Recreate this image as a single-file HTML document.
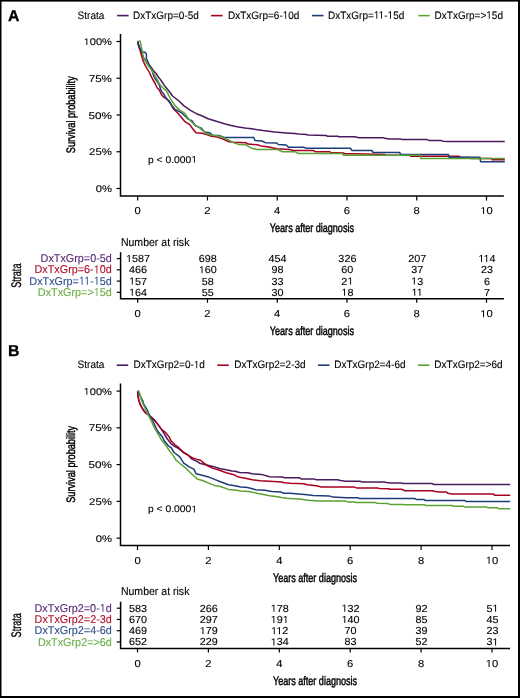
<!DOCTYPE html>
<html><head><meta charset="utf-8"><style>html,body{margin:0;padding:0;background:#fff}svg{display:block}.o{fill-opacity:0;stroke-opacity:0}text{font-family:"Liberation Sans", sans-serif;fill:#000;text-rendering:geometricPrecision}</style></head>
<body><svg style="will-change:transform" width="520" height="698" viewBox="0 0 520 698">
<rect width="520" height="698" fill="#fff"/><defs><path id="g1" d="M515 0V1237L197 1010V1180L530 1409H696V0Z"/></defs>
<text x="7.9" y="21.3" font-size="15.8" font-weight="bold" stroke="#000" stroke-width="0.3">A</text>
<text transform="translate(77.60,18.75) scale(0.926,1)" font-size="10.8" style="fill:#000;stroke:#000;stroke-width:0.12px">Strata</text>
<line x1="117.1" y1="15.6" x2="128.6" y2="15.6" stroke="#4a1a5e" stroke-width="1.6"/>
<text transform="translate(133.00,18.75) scale(0.926,1)" font-size="10.8" style="fill:#000;stroke:#000;stroke-width:0.12px">DxTxGrp=0-5d</text>
<line x1="211.1" y1="15.6" x2="222.6" y2="15.6" stroke="#a8001f" stroke-width="1.6"/>
<text transform="translate(228.00,18.75) scale(0.926,1)" font-size="10.8" style="fill:#000;stroke:#000;stroke-width:0.12px">DxTxGrp=6-<tspan class="o">1</tspan>0d</text>
<line x1="312.0" y1="15.6" x2="323.5" y2="15.6" stroke="#1e3c7a" stroke-width="1.6"/>
<text transform="translate(328.00,18.75) scale(0.926,1)" font-size="10.8" style="fill:#000;stroke:#000;stroke-width:0.12px">DxTxGrp=<tspan class="o">1</tspan><tspan class="o">1</tspan>-<tspan class="o">1</tspan>5d</text>
<line x1="418.3" y1="15.6" x2="429.8" y2="15.6" stroke="#5ba234" stroke-width="1.6"/>
<text transform="translate(434.60,18.75) scale(0.926,1)" font-size="10.8" style="fill:#000;stroke:#000;stroke-width:0.12px">DxTxGrp=&gt;<tspan class="o">1</tspan>5d</text>
<path d="M120.5,34.0 V196.0 H503.9" fill="none" stroke="#000" stroke-width="1.5"/>
<line x1="116.5" y1="41.50" x2="120.5" y2="41.50" stroke="#000" stroke-width="1.2"/>
<text transform="translate(111.90,45.10) scale(1.144,1)" font-size="9.7" text-anchor="end" style="fill:#000;stroke:#000;stroke-width:0.12px"><tspan class="o">1</tspan>00%</text>
<line x1="116.5" y1="78.25" x2="120.5" y2="78.25" stroke="#000" stroke-width="1.2"/>
<text transform="translate(111.90,81.85) scale(1.197,1)" font-size="9.7" text-anchor="end" style="fill:#000;stroke:#000;stroke-width:0.12px">75%</text>
<line x1="116.5" y1="115.00" x2="120.5" y2="115.00" stroke="#000" stroke-width="1.2"/>
<text transform="translate(111.90,118.60) scale(1.207,1)" font-size="9.7" text-anchor="end" style="fill:#000;stroke:#000;stroke-width:0.12px">50%</text>
<line x1="116.5" y1="151.75" x2="120.5" y2="151.75" stroke="#000" stroke-width="1.2"/>
<text transform="translate(111.90,155.35) scale(1.176,1)" font-size="9.7" text-anchor="end" style="fill:#000;stroke:#000;stroke-width:0.12px">25%</text>
<line x1="116.5" y1="188.50" x2="120.5" y2="188.50" stroke="#000" stroke-width="1.2"/>
<text transform="translate(111.90,192.10) scale(1.157,1)" font-size="9.7" text-anchor="end" style="fill:#000;stroke:#000;stroke-width:0.12px">0%</text>
<text transform="translate(75.2,114.7) rotate(-90) scale(0.745,1)" font-size="12.3" text-anchor="middle" stroke="#000" stroke-width="0.45">Survival probability</text>
<line x1="137.70" y1="196.0" x2="137.70" y2="200.5" stroke="#000" stroke-width="1.2"/>
<text transform="translate(137.70,214.10) scale(1.110,1)" font-size="10.1" text-anchor="middle" style="fill:#000;stroke:#000;stroke-width:0.12px">0</text>
<line x1="207.46" y1="196.0" x2="207.46" y2="200.5" stroke="#000" stroke-width="1.2"/>
<text transform="translate(207.46,214.10) scale(1.110,1)" font-size="10.1" text-anchor="middle" style="fill:#000;stroke:#000;stroke-width:0.12px">2</text>
<line x1="277.22" y1="196.0" x2="277.22" y2="200.5" stroke="#000" stroke-width="1.2"/>
<text transform="translate(277.22,214.10) scale(1.110,1)" font-size="10.1" text-anchor="middle" style="fill:#000;stroke:#000;stroke-width:0.12px">4</text>
<line x1="346.98" y1="196.0" x2="346.98" y2="200.5" stroke="#000" stroke-width="1.2"/>
<text transform="translate(346.98,214.10) scale(1.110,1)" font-size="10.1" text-anchor="middle" style="fill:#000;stroke:#000;stroke-width:0.12px">6</text>
<line x1="416.74" y1="196.0" x2="416.74" y2="200.5" stroke="#000" stroke-width="1.2"/>
<text transform="translate(416.74,214.10) scale(1.110,1)" font-size="10.1" text-anchor="middle" style="fill:#000;stroke:#000;stroke-width:0.12px">8</text>
<line x1="486.50" y1="196.0" x2="486.50" y2="200.5" stroke="#000" stroke-width="1.2"/>
<text transform="translate(486.50,214.10) scale(1.110,1)" font-size="10.1" text-anchor="middle" style="fill:#000;stroke:#000;stroke-width:0.12px"><tspan class="o">1</tspan>0</text>
<text transform="translate(311.9,232.3) scale(0.735,1)" font-size="12.3" text-anchor="middle" stroke="#000" stroke-width="0.45">Years after diagnosis</text>
<text transform="translate(148.00,162.80) scale(1.065,1)" font-size="9.7" style="fill:#000;stroke:#000;stroke-width:0.12px">p &lt; 0.000<tspan class="o">1</tspan></text>
<path d="M137.7,41.5 L138.6,45.0 L139.8,48.5 L141.0,51.5 L142.3,55.0 L144.0,58.5 L146.5,62.5 L149.0,65.5 L151.1,67.5 L153.8,71.0 L156.5,74.0 L158.6,77.2 L160.5,79.6 L162.4,82.5 L164.3,85.4 L166.3,87.8 L168.7,90.7 L171.1,94.0 L172.5,96.0 L178.8,100.8 L183.7,105.6 L190.4,110.4 L196.5,113.7 L202.3,116.0 L208.1,118.8 L213.0,120.2 L219.6,122.3 L225.4,124.0 L231.2,125.5 L236.9,126.7 L245.0,128.1 L251.5,128.8 L263.1,130.6 L274.6,132.1 L286.2,132.9 L295.0,133.6 L298.5,134.1 L306.5,134.4 L307.7,135.0 L326.2,135.5 L327.3,136.2 L337.7,136.2 L338.8,136.7 L354.6,136.7 L359.2,137.7 L383.5,137.7 L384.6,138.3 L389.2,139.1 L400.8,139.1 L401.9,139.5 L426.5,139.5 L430.0,140.6 L441.5,140.6 L443.3,141.2 L447.3,141.5 L504.8,141.5" fill="none" stroke="#4a1a5e" stroke-width="1.5" stroke-linejoin="round"/>
<path d="M137.7,41.5 L138.3,45.2 L139.3,48.1 L140.3,51.0 L141.2,54.4 L142.3,58.2 L143.5,61.8 L145.3,65.6 L147.2,68.9 L149.1,71.8 L150.6,75.2 L152.5,79.0 L155.2,83.5 L157.1,87.8 L159.5,90.2 L161.0,94.0 L163.5,96.9 L169.2,100.8 L173.1,108.5 L177.9,113.3 L182.7,119.0 L185.0,121.7 L189.6,124.6 L193.1,129.2 L196.0,132.7 L202.3,133.3 L205.8,134.4 L211.5,136.2 L217.3,137.1 L223.1,139.0 L228.8,141.7 L233.5,142.2 L240.0,142.5 L245.8,142.7 L248.1,144.1 L257.3,144.8 L260.8,145.9 L268.8,147.1 L276.9,148.7 L289.6,149.4 L293.1,150.5 L313.5,150.6 L315.2,151.7 L329.6,151.7 L330.8,152.5 L343.5,152.9 L344.6,153.7 L353.5,153.8 L384.6,154.4 L385.8,155.2 L410.0,155.2 L410.4,156.3 L459.2,156.3 L460.4,157.5 L470.0,157.5 L471.0,158.6 L491.5,158.6 L492.1,159.8 L504.8,159.8" fill="none" stroke="#a8001f" stroke-width="1.5" stroke-linejoin="round"/>
<path d="M137.7,41.5 L138.3,44.3 L139.8,47.6 L141.2,50.5 L142.7,52.2 L145.0,52.3 L146.2,53.5 L146.5,56.0 L146.3,58.3 L147.2,60.3 L149.1,64.6 L151.1,67.5 L152.3,71.5 L153.8,76.3 L155.2,78.7 L157.6,82.0 L159.5,85.4 L160.5,89.2 L162.4,92.6 L163.9,94.0 L165.0,96.5 L168.3,100.8 L172.1,105.6 L175.0,109.4 L180.8,112.3 L185.3,116.3 L188.5,119.4 L191.9,120.6 L195.4,125.8 L201.2,128.1 L204.6,132.1 L209.2,132.7 L212.7,135.2 L219.6,135.6 L224.2,137.5 L253.8,137.5 L255.0,140.6 L261.9,141.0 L265.4,142.7 L276.9,142.9 L278.1,144.4 L286.2,145.0 L288.5,147.3 L304.2,147.3 L306.0,148.3 L350.4,148.3 L352.1,150.5 L371.9,150.5 L373.1,152.5 L399.6,152.5 L400.8,154.5 L448.5,154.5 L449.0,157.3 L480.0,157.3 L480.6,161.7 L504.8,161.7" fill="none" stroke="#1e3c7a" stroke-width="1.5" stroke-linejoin="round"/>
<path d="M137.7,41.3 L140.2,41.3 L140.7,44.3 L141.5,47.6 L142.2,50.5 L142.7,53.9 L143.6,57.6 L145.3,60.3 L147.2,64.1 L149.6,67.5 L152.0,70.4 L153.6,73.5 L155.2,75.8 L157.1,79.1 L158.6,82.5 L160.5,85.4 L163.4,88.3 L165.8,90.2 L167.7,93.1 L168.5,95.0 L171.2,99.8 L175.0,105.6 L178.8,109.4 L184.6,113.3 L188.5,118.7 L194.2,124.6 L200.0,128.1 L205.8,133.3 L211.5,135.2 L218.5,135.9 L223.1,137.5 L228.8,140.2 L234.6,143.1 L239.2,144.6 L245.8,144.8 L251.5,148.2 L257.3,149.4 L276.9,149.4 L282.7,151.7 L295.0,151.7 L298.5,153.5 L342.3,153.5 L343.5,155.2 L420.2,155.2 L420.8,158.6 L504.8,158.6" fill="none" stroke="#5ba234" stroke-width="1.5" stroke-linejoin="round"/>
<text transform="translate(120.90,245.50) scale(0.925,1)" font-size="11.4" style="fill:#000;stroke:#000;stroke-width:0.12px">Number at risk</text>
<path d="M120.6,252.2 V298.8 H503.9" fill="none" stroke="#000" stroke-width="1.5"/>
<line x1="116.8" y1="258.60" x2="120.6" y2="258.60" stroke="#000" stroke-width="1.2"/>
<text transform="translate(111.80,262.15) scale(0.957,1)" font-size="11.3" text-anchor="end" style="fill:#5a2a78;stroke:#5a2a78;stroke-width:0.12px">DxTxGrp=0-5d</text>
<text transform="translate(138.10,262.10) scale(1.060,1)" font-size="10.2" text-anchor="middle" style="fill:#000;stroke:#000;stroke-width:0.12px"><tspan class="o">1</tspan>587</text>
<text transform="translate(207.86,262.10) scale(1.060,1)" font-size="10.2" text-anchor="middle" style="fill:#000;stroke:#000;stroke-width:0.12px">698</text>
<text transform="translate(277.62,262.10) scale(1.060,1)" font-size="10.2" text-anchor="middle" style="fill:#000;stroke:#000;stroke-width:0.12px">454</text>
<text transform="translate(347.38,262.10) scale(1.060,1)" font-size="10.2" text-anchor="middle" style="fill:#000;stroke:#000;stroke-width:0.12px">326</text>
<text transform="translate(417.14,262.10) scale(1.060,1)" font-size="10.2" text-anchor="middle" style="fill:#000;stroke:#000;stroke-width:0.12px">207</text>
<text transform="translate(486.90,262.10) scale(1.060,1)" font-size="10.2" text-anchor="middle" style="fill:#000;stroke:#000;stroke-width:0.12px"><tspan class="o">1</tspan><tspan class="o">1</tspan>4</text>
<line x1="116.8" y1="269.85" x2="120.6" y2="269.85" stroke="#000" stroke-width="1.2"/>
<text transform="translate(111.80,273.40) scale(0.957,1)" font-size="11.3" text-anchor="end" style="fill:#b0102c;stroke:#b0102c;stroke-width:0.12px">DxTxGrp=6-<tspan class="o">1</tspan>0d</text>
<text transform="translate(138.10,273.35) scale(1.060,1)" font-size="10.2" text-anchor="middle" style="fill:#000;stroke:#000;stroke-width:0.12px">466</text>
<text transform="translate(207.86,273.35) scale(1.060,1)" font-size="10.2" text-anchor="middle" style="fill:#000;stroke:#000;stroke-width:0.12px"><tspan class="o">1</tspan>60</text>
<text transform="translate(277.62,273.35) scale(1.060,1)" font-size="10.2" text-anchor="middle" style="fill:#000;stroke:#000;stroke-width:0.12px">98</text>
<text transform="translate(347.38,273.35) scale(1.060,1)" font-size="10.2" text-anchor="middle" style="fill:#000;stroke:#000;stroke-width:0.12px">60</text>
<text transform="translate(417.14,273.35) scale(1.060,1)" font-size="10.2" text-anchor="middle" style="fill:#000;stroke:#000;stroke-width:0.12px">37</text>
<text transform="translate(486.90,273.35) scale(1.060,1)" font-size="10.2" text-anchor="middle" style="fill:#000;stroke:#000;stroke-width:0.12px">23</text>
<line x1="116.8" y1="281.10" x2="120.6" y2="281.10" stroke="#000" stroke-width="1.2"/>
<text transform="translate(111.80,284.65) scale(0.957,1)" font-size="11.3" text-anchor="end" style="fill:#2f4f8f;stroke:#2f4f8f;stroke-width:0.12px">DxTxGrp=<tspan class="o">1</tspan><tspan class="o">1</tspan>-<tspan class="o">1</tspan>5d</text>
<text transform="translate(138.10,284.60) scale(1.060,1)" font-size="10.2" text-anchor="middle" style="fill:#000;stroke:#000;stroke-width:0.12px"><tspan class="o">1</tspan>57</text>
<text transform="translate(207.86,284.60) scale(1.060,1)" font-size="10.2" text-anchor="middle" style="fill:#000;stroke:#000;stroke-width:0.12px">58</text>
<text transform="translate(277.62,284.60) scale(1.060,1)" font-size="10.2" text-anchor="middle" style="fill:#000;stroke:#000;stroke-width:0.12px">33</text>
<text transform="translate(347.38,284.60) scale(1.060,1)" font-size="10.2" text-anchor="middle" style="fill:#000;stroke:#000;stroke-width:0.12px">2<tspan class="o">1</tspan></text>
<text transform="translate(417.14,284.60) scale(1.060,1)" font-size="10.2" text-anchor="middle" style="fill:#000;stroke:#000;stroke-width:0.12px"><tspan class="o">1</tspan>3</text>
<text transform="translate(486.90,284.60) scale(1.060,1)" font-size="10.2" text-anchor="middle" style="fill:#000;stroke:#000;stroke-width:0.12px">6</text>
<line x1="116.8" y1="292.35" x2="120.6" y2="292.35" stroke="#000" stroke-width="1.2"/>
<text transform="translate(111.80,295.90) scale(0.957,1)" font-size="11.3" text-anchor="end" style="fill:#6aae45;stroke:#6aae45;stroke-width:0.12px">DxTxGrp=&gt;<tspan class="o">1</tspan>5d</text>
<text transform="translate(138.10,295.85) scale(1.060,1)" font-size="10.2" text-anchor="middle" style="fill:#000;stroke:#000;stroke-width:0.12px"><tspan class="o">1</tspan>64</text>
<text transform="translate(207.86,295.85) scale(1.060,1)" font-size="10.2" text-anchor="middle" style="fill:#000;stroke:#000;stroke-width:0.12px">55</text>
<text transform="translate(277.62,295.85) scale(1.060,1)" font-size="10.2" text-anchor="middle" style="fill:#000;stroke:#000;stroke-width:0.12px">30</text>
<text transform="translate(347.38,295.85) scale(1.060,1)" font-size="10.2" text-anchor="middle" style="fill:#000;stroke:#000;stroke-width:0.12px"><tspan class="o">1</tspan>8</text>
<text transform="translate(417.14,295.85) scale(1.060,1)" font-size="10.2" text-anchor="middle" style="fill:#000;stroke:#000;stroke-width:0.12px"><tspan class="o">1</tspan><tspan class="o">1</tspan></text>
<text transform="translate(486.90,295.85) scale(1.060,1)" font-size="10.2" text-anchor="middle" style="fill:#000;stroke:#000;stroke-width:0.12px">7</text>
<text transform="translate(21.4,275.7) rotate(-90) scale(0.655,1)" font-size="13.9" text-anchor="middle" stroke="#000" stroke-width="0.3">Strata</text>
<line x1="137.70" y1="298.8" x2="137.70" y2="302.8" stroke="#000" stroke-width="1.2"/>
<text transform="translate(137.70,317.30) scale(1.110,1)" font-size="10.1" text-anchor="middle" style="fill:#000;stroke:#000;stroke-width:0.12px">0</text>
<line x1="207.46" y1="298.8" x2="207.46" y2="302.8" stroke="#000" stroke-width="1.2"/>
<text transform="translate(207.46,317.30) scale(1.110,1)" font-size="10.1" text-anchor="middle" style="fill:#000;stroke:#000;stroke-width:0.12px">2</text>
<line x1="277.22" y1="298.8" x2="277.22" y2="302.8" stroke="#000" stroke-width="1.2"/>
<text transform="translate(277.22,317.30) scale(1.110,1)" font-size="10.1" text-anchor="middle" style="fill:#000;stroke:#000;stroke-width:0.12px">4</text>
<line x1="346.98" y1="298.8" x2="346.98" y2="302.8" stroke="#000" stroke-width="1.2"/>
<text transform="translate(346.98,317.30) scale(1.110,1)" font-size="10.1" text-anchor="middle" style="fill:#000;stroke:#000;stroke-width:0.12px">6</text>
<line x1="416.74" y1="298.8" x2="416.74" y2="302.8" stroke="#000" stroke-width="1.2"/>
<text transform="translate(416.74,317.30) scale(1.110,1)" font-size="10.1" text-anchor="middle" style="fill:#000;stroke:#000;stroke-width:0.12px">8</text>
<line x1="486.50" y1="298.8" x2="486.50" y2="302.8" stroke="#000" stroke-width="1.2"/>
<text transform="translate(486.50,317.30) scale(1.110,1)" font-size="10.1" text-anchor="middle" style="fill:#000;stroke:#000;stroke-width:0.12px"><tspan class="o">1</tspan>0</text>
<text transform="translate(311.9,335.3) scale(0.735,1)" font-size="12.3" text-anchor="middle" stroke="#000" stroke-width="0.45">Years after diagnosis</text>
<text x="7.9" y="356.2" font-size="15.8" font-weight="bold" stroke="#000" stroke-width="0.3">B</text>
<text transform="translate(77.60,368.35) scale(0.926,1)" font-size="10.8" style="fill:#000;stroke:#000;stroke-width:0.12px">Strata</text>
<line x1="116.7" y1="365.2" x2="128.2" y2="365.2" stroke="#4a1a5e" stroke-width="1.6"/>
<text transform="translate(133.50,368.35) scale(0.926,1)" font-size="10.8" style="fill:#000;stroke:#000;stroke-width:0.12px">DxTxGrp2=0-<tspan class="o">1</tspan>d</text>
<line x1="217.3" y1="365.2" x2="228.8" y2="365.2" stroke="#a8001f" stroke-width="1.6"/>
<text transform="translate(234.20,368.35) scale(0.926,1)" font-size="10.8" style="fill:#000;stroke:#000;stroke-width:0.12px">DxTxGrp2=2-3d</text>
<line x1="318.0" y1="365.2" x2="329.5" y2="365.2" stroke="#1e3c7a" stroke-width="1.6"/>
<text transform="translate(334.20,368.35) scale(0.926,1)" font-size="10.8" style="fill:#000;stroke:#000;stroke-width:0.12px">DxTxGrp2=4-6d</text>
<line x1="418.0" y1="365.2" x2="429.5" y2="365.2" stroke="#5ba234" stroke-width="1.6"/>
<text transform="translate(434.30,368.35) scale(0.926,1)" font-size="10.8" style="fill:#000;stroke:#000;stroke-width:0.12px">DxTxGrp2=&gt;6d</text>
<path d="M120.5,383.6 V545.6 H510.0" fill="none" stroke="#000" stroke-width="1.5"/>
<line x1="116.5" y1="391.10" x2="120.5" y2="391.10" stroke="#000" stroke-width="1.2"/>
<text transform="translate(111.90,394.70) scale(1.144,1)" font-size="9.7" text-anchor="end" style="fill:#000;stroke:#000;stroke-width:0.12px"><tspan class="o">1</tspan>00%</text>
<line x1="116.5" y1="427.85" x2="120.5" y2="427.85" stroke="#000" stroke-width="1.2"/>
<text transform="translate(111.90,431.45) scale(1.197,1)" font-size="9.7" text-anchor="end" style="fill:#000;stroke:#000;stroke-width:0.12px">75%</text>
<line x1="116.5" y1="464.60" x2="120.5" y2="464.60" stroke="#000" stroke-width="1.2"/>
<text transform="translate(111.90,468.20) scale(1.207,1)" font-size="9.7" text-anchor="end" style="fill:#000;stroke:#000;stroke-width:0.12px">50%</text>
<line x1="116.5" y1="501.35" x2="120.5" y2="501.35" stroke="#000" stroke-width="1.2"/>
<text transform="translate(111.90,504.95) scale(1.176,1)" font-size="9.7" text-anchor="end" style="fill:#000;stroke:#000;stroke-width:0.12px">25%</text>
<line x1="116.5" y1="538.10" x2="120.5" y2="538.10" stroke="#000" stroke-width="1.2"/>
<text transform="translate(111.90,541.70) scale(1.157,1)" font-size="9.7" text-anchor="end" style="fill:#000;stroke:#000;stroke-width:0.12px">0%</text>
<text transform="translate(75.2,464.3) rotate(-90) scale(0.745,1)" font-size="12.3" text-anchor="middle" stroke="#000" stroke-width="0.45">Survival probability</text>
<line x1="137.50" y1="545.6" x2="137.50" y2="550.1" stroke="#000" stroke-width="1.2"/>
<text transform="translate(137.50,563.70) scale(1.110,1)" font-size="10.1" text-anchor="middle" style="fill:#000;stroke:#000;stroke-width:0.12px">0</text>
<line x1="208.40" y1="545.6" x2="208.40" y2="550.1" stroke="#000" stroke-width="1.2"/>
<text transform="translate(208.40,563.70) scale(1.110,1)" font-size="10.1" text-anchor="middle" style="fill:#000;stroke:#000;stroke-width:0.12px">2</text>
<line x1="279.30" y1="545.6" x2="279.30" y2="550.1" stroke="#000" stroke-width="1.2"/>
<text transform="translate(279.30,563.70) scale(1.110,1)" font-size="10.1" text-anchor="middle" style="fill:#000;stroke:#000;stroke-width:0.12px">4</text>
<line x1="350.20" y1="545.6" x2="350.20" y2="550.1" stroke="#000" stroke-width="1.2"/>
<text transform="translate(350.20,563.70) scale(1.110,1)" font-size="10.1" text-anchor="middle" style="fill:#000;stroke:#000;stroke-width:0.12px">6</text>
<line x1="421.10" y1="545.6" x2="421.10" y2="550.1" stroke="#000" stroke-width="1.2"/>
<text transform="translate(421.10,563.70) scale(1.110,1)" font-size="10.1" text-anchor="middle" style="fill:#000;stroke:#000;stroke-width:0.12px">8</text>
<line x1="492.00" y1="545.6" x2="492.00" y2="550.1" stroke="#000" stroke-width="1.2"/>
<text transform="translate(492.00,563.70) scale(1.110,1)" font-size="10.1" text-anchor="middle" style="fill:#000;stroke:#000;stroke-width:0.12px"><tspan class="o">1</tspan>0</text>
<text transform="translate(315.0,581.9) scale(0.735,1)" font-size="12.3" text-anchor="middle" stroke="#000" stroke-width="0.45">Years after diagnosis</text>
<text transform="translate(148.00,512.40) scale(1.065,1)" font-size="9.7" style="fill:#000;stroke:#000;stroke-width:0.12px">p &lt; 0.000<tspan class="o">1</tspan></text>
<path d="M137.7,390.9 L137.8,395.2 L138.8,400.0 L139.8,403.4 L141.2,406.3 L143.1,409.6 L145.1,412.5 L149.4,415.7 L152.5,418.5 L155.8,421.7 L161.5,429.4 L164.4,434.2 L167.3,439.0 L171.2,443.8 L175.0,446.7 L178.8,448.7 L182.7,452.0 L188.5,455.4 L191.5,458.8 L197.3,461.7 L199.6,463.2 L204.6,464.4 L208.8,465.5 L214.6,466.9 L220.4,468.7 L226.2,469.8 L231.9,471.0 L235.0,471.3 L239.6,472.5 L247.7,472.7 L252.3,473.8 L261.5,474.4 L269.6,476.7 L282.3,477.1 L284.6,477.7 L299.2,477.7 L301.5,479.1 L314.2,479.1 L316.5,479.8 L337.3,479.8 L340.8,480.6 L345.4,481.2 L360.0,481.2 L361.7,481.9 L384.2,481.9 L386.5,482.5 L391.2,482.9 L401.5,482.9 L402.7,483.5 L431.7,483.5 L434.0,484.5 L510.2,484.5" fill="none" stroke="#4a1a5e" stroke-width="1.5" stroke-linejoin="round"/>
<path d="M137.7,390.9 L137.8,395.2 L138.8,400.0 L139.8,403.4 L141.2,406.3 L143.1,409.6 L145.1,412.5 L149.4,415.7 L153.8,419.3 L157.7,424.1 L161.5,429.4 L165.4,432.3 L169.2,437.1 L171.2,441.0 L175.0,444.8 L178.8,447.7 L183.7,452.5 L188.5,455.4 L193.3,458.3 L197.3,459.4 L200.0,460.0 L203.1,462.3 L207.7,465.8 L212.3,468.1 L218.1,469.8 L226.2,472.7 L233.1,474.4 L237.7,476.7 L240.0,477.3 L246.5,478.5 L252.3,479.8 L260.4,480.8 L269.6,481.3 L281.2,481.9 L284.6,482.8 L290.0,483.2 L303.8,483.7 L307.3,484.8 L316.5,485.8 L321.2,486.9 L354.2,487.1 L356.5,487.9 L377.3,487.9 L379.6,488.5 L388.8,488.7 L390.0,489.2 L401.5,489.2 L405.2,490.8 L432.3,490.8 L434.0,491.3 L439.2,491.9 L446.2,491.9 L447.9,493.3 L451.9,494.0 L493.5,494.0 L494.5,495.3 L510.2,495.3" fill="none" stroke="#a8001f" stroke-width="1.5" stroke-linejoin="round"/>
<path d="M137.7,390.9 L139.2,393.8 L141.0,397.5 L142.7,400.5 L143.6,403.9 L145.5,407.2 L147.5,410.6 L148.3,412.5 L149.4,414.9 L152.5,420.3 L154.8,425.2 L157.7,431.3 L162.5,437.1 L164.4,441.0 L168.3,445.8 L171.2,447.7 L174.0,452.5 L177.9,455.4 L180.0,457.1 L183.5,462.9 L189.2,466.9 L193.8,469.2 L196.2,473.8 L203.1,475.6 L208.8,477.1 L214.6,479.4 L220.4,481.7 L228.5,484.8 L235.0,485.8 L240.8,487.1 L247.7,487.5 L255.8,489.8 L265.0,490.2 L271.9,491.4 L281.2,492.1 L283.5,493.2 L290.0,493.3 L295.8,493.8 L307.3,494.8 L313.1,495.6 L329.2,495.9 L332.7,497.1 L341.9,497.5 L346.5,497.7 L357.7,497.7 L359.4,498.6 L415.0,498.6 L416.2,499.4 L423.7,499.4 L425.4,500.5 L465.0,500.5 L466.0,501.5 L510.2,501.5" fill="none" stroke="#1e3c7a" stroke-width="1.5" stroke-linejoin="round"/>
<path d="M137.7,390.9 L138.8,391.0 L139.8,393.8 L140.7,397.6 L141.7,400.5 L143.1,403.9 L144.6,407.2 L146.0,410.1 L147.0,412.5 L149.4,417.2 L152.5,423.4 L154.0,427.2 L157.7,433.3 L161.5,440.0 L166.3,445.8 L169.2,450.6 L173.1,455.4 L176.0,460.2 L180.0,463.5 L185.8,468.1 L191.5,473.8 L197.3,479.0 L203.1,480.8 L208.8,483.1 L214.6,485.4 L220.4,486.5 L228.5,489.4 L235.0,489.9 L240.8,490.9 L248.8,491.4 L258.1,493.5 L269.6,495.8 L277.7,496.7 L281.2,497.5 L286.9,498.3 L290.0,498.5 L299.2,499.0 L308.5,500.2 L317.7,501.0 L345.4,501.0 L347.7,501.9 L354.2,501.9 L356.5,502.5 L375.0,502.5 L377.3,503.2 L387.7,503.5 L390.0,504.4 L403.5,504.4 L404.6,504.8 L424.2,504.8 L426.0,505.5 L451.9,505.5 L453.7,506.2 L463.5,506.2 L464.5,507.0 L486.5,507.0 L487.5,507.7 L497.5,507.7 L498.7,508.8 L510.2,508.8" fill="none" stroke="#5ba234" stroke-width="1.5" stroke-linejoin="round"/>
<text transform="translate(120.90,595.10) scale(0.925,1)" font-size="11.4" style="fill:#000;stroke:#000;stroke-width:0.12px">Number at risk</text>
<path d="M120.6,601.8 V648.4 H510.0" fill="none" stroke="#000" stroke-width="1.5"/>
<line x1="116.8" y1="608.20" x2="120.6" y2="608.20" stroke="#000" stroke-width="1.2"/>
<text transform="translate(111.80,611.75) scale(0.957,1)" font-size="11.3" text-anchor="end" style="fill:#5a2a78;stroke:#5a2a78;stroke-width:0.12px">DxTxGrp2=0-<tspan class="o">1</tspan>d</text>
<text transform="translate(137.90,611.70) scale(1.060,1)" font-size="10.2" text-anchor="middle" style="fill:#000;stroke:#000;stroke-width:0.12px">583</text>
<text transform="translate(208.80,611.70) scale(1.060,1)" font-size="10.2" text-anchor="middle" style="fill:#000;stroke:#000;stroke-width:0.12px">266</text>
<text transform="translate(279.70,611.70) scale(1.060,1)" font-size="10.2" text-anchor="middle" style="fill:#000;stroke:#000;stroke-width:0.12px"><tspan class="o">1</tspan>78</text>
<text transform="translate(350.60,611.70) scale(1.060,1)" font-size="10.2" text-anchor="middle" style="fill:#000;stroke:#000;stroke-width:0.12px"><tspan class="o">1</tspan>32</text>
<text transform="translate(421.50,611.70) scale(1.060,1)" font-size="10.2" text-anchor="middle" style="fill:#000;stroke:#000;stroke-width:0.12px">92</text>
<text transform="translate(492.40,611.70) scale(1.060,1)" font-size="10.2" text-anchor="middle" style="fill:#000;stroke:#000;stroke-width:0.12px">5<tspan class="o">1</tspan></text>
<line x1="116.8" y1="619.45" x2="120.6" y2="619.45" stroke="#000" stroke-width="1.2"/>
<text transform="translate(111.80,623.00) scale(0.957,1)" font-size="11.3" text-anchor="end" style="fill:#b0102c;stroke:#b0102c;stroke-width:0.12px">DxTxGrp2=2-3d</text>
<text transform="translate(137.90,622.95) scale(1.060,1)" font-size="10.2" text-anchor="middle" style="fill:#000;stroke:#000;stroke-width:0.12px">670</text>
<text transform="translate(208.80,622.95) scale(1.060,1)" font-size="10.2" text-anchor="middle" style="fill:#000;stroke:#000;stroke-width:0.12px">297</text>
<text transform="translate(279.70,622.95) scale(1.060,1)" font-size="10.2" text-anchor="middle" style="fill:#000;stroke:#000;stroke-width:0.12px"><tspan class="o">1</tspan>9<tspan class="o">1</tspan></text>
<text transform="translate(350.60,622.95) scale(1.060,1)" font-size="10.2" text-anchor="middle" style="fill:#000;stroke:#000;stroke-width:0.12px"><tspan class="o">1</tspan>40</text>
<text transform="translate(421.50,622.95) scale(1.060,1)" font-size="10.2" text-anchor="middle" style="fill:#000;stroke:#000;stroke-width:0.12px">85</text>
<text transform="translate(492.40,622.95) scale(1.060,1)" font-size="10.2" text-anchor="middle" style="fill:#000;stroke:#000;stroke-width:0.12px">45</text>
<line x1="116.8" y1="630.70" x2="120.6" y2="630.70" stroke="#000" stroke-width="1.2"/>
<text transform="translate(111.80,634.25) scale(0.957,1)" font-size="11.3" text-anchor="end" style="fill:#2f4f8f;stroke:#2f4f8f;stroke-width:0.12px">DxTxGrp2=4-6d</text>
<text transform="translate(137.90,634.20) scale(1.060,1)" font-size="10.2" text-anchor="middle" style="fill:#000;stroke:#000;stroke-width:0.12px">469</text>
<text transform="translate(208.80,634.20) scale(1.060,1)" font-size="10.2" text-anchor="middle" style="fill:#000;stroke:#000;stroke-width:0.12px"><tspan class="o">1</tspan>79</text>
<text transform="translate(279.70,634.20) scale(1.060,1)" font-size="10.2" text-anchor="middle" style="fill:#000;stroke:#000;stroke-width:0.12px"><tspan class="o">1</tspan><tspan class="o">1</tspan>2</text>
<text transform="translate(350.60,634.20) scale(1.060,1)" font-size="10.2" text-anchor="middle" style="fill:#000;stroke:#000;stroke-width:0.12px">70</text>
<text transform="translate(421.50,634.20) scale(1.060,1)" font-size="10.2" text-anchor="middle" style="fill:#000;stroke:#000;stroke-width:0.12px">39</text>
<text transform="translate(492.40,634.20) scale(1.060,1)" font-size="10.2" text-anchor="middle" style="fill:#000;stroke:#000;stroke-width:0.12px">23</text>
<line x1="116.8" y1="641.95" x2="120.6" y2="641.95" stroke="#000" stroke-width="1.2"/>
<text transform="translate(111.80,645.50) scale(0.957,1)" font-size="11.3" text-anchor="end" style="fill:#6aae45;stroke:#6aae45;stroke-width:0.12px">DxTxGrp2=&gt;6d</text>
<text transform="translate(137.90,645.45) scale(1.060,1)" font-size="10.2" text-anchor="middle" style="fill:#000;stroke:#000;stroke-width:0.12px">652</text>
<text transform="translate(208.80,645.45) scale(1.060,1)" font-size="10.2" text-anchor="middle" style="fill:#000;stroke:#000;stroke-width:0.12px">229</text>
<text transform="translate(279.70,645.45) scale(1.060,1)" font-size="10.2" text-anchor="middle" style="fill:#000;stroke:#000;stroke-width:0.12px"><tspan class="o">1</tspan>34</text>
<text transform="translate(350.60,645.45) scale(1.060,1)" font-size="10.2" text-anchor="middle" style="fill:#000;stroke:#000;stroke-width:0.12px">83</text>
<text transform="translate(421.50,645.45) scale(1.060,1)" font-size="10.2" text-anchor="middle" style="fill:#000;stroke:#000;stroke-width:0.12px">52</text>
<text transform="translate(492.40,645.45) scale(1.060,1)" font-size="10.2" text-anchor="middle" style="fill:#000;stroke:#000;stroke-width:0.12px">3<tspan class="o">1</tspan></text>
<text transform="translate(21.4,625.3) rotate(-90) scale(0.655,1)" font-size="13.9" text-anchor="middle" stroke="#000" stroke-width="0.3">Strata</text>
<line x1="137.50" y1="648.4" x2="137.50" y2="652.4" stroke="#000" stroke-width="1.2"/>
<text transform="translate(137.50,666.90) scale(1.110,1)" font-size="10.1" text-anchor="middle" style="fill:#000;stroke:#000;stroke-width:0.12px">0</text>
<line x1="208.40" y1="648.4" x2="208.40" y2="652.4" stroke="#000" stroke-width="1.2"/>
<text transform="translate(208.40,666.90) scale(1.110,1)" font-size="10.1" text-anchor="middle" style="fill:#000;stroke:#000;stroke-width:0.12px">2</text>
<line x1="279.30" y1="648.4" x2="279.30" y2="652.4" stroke="#000" stroke-width="1.2"/>
<text transform="translate(279.30,666.90) scale(1.110,1)" font-size="10.1" text-anchor="middle" style="fill:#000;stroke:#000;stroke-width:0.12px">4</text>
<line x1="350.20" y1="648.4" x2="350.20" y2="652.4" stroke="#000" stroke-width="1.2"/>
<text transform="translate(350.20,666.90) scale(1.110,1)" font-size="10.1" text-anchor="middle" style="fill:#000;stroke:#000;stroke-width:0.12px">6</text>
<line x1="421.10" y1="648.4" x2="421.10" y2="652.4" stroke="#000" stroke-width="1.2"/>
<text transform="translate(421.10,666.90) scale(1.110,1)" font-size="10.1" text-anchor="middle" style="fill:#000;stroke:#000;stroke-width:0.12px">8</text>
<line x1="492.00" y1="648.4" x2="492.00" y2="652.4" stroke="#000" stroke-width="1.2"/>
<text transform="translate(492.00,666.90) scale(1.110,1)" font-size="10.1" text-anchor="middle" style="fill:#000;stroke:#000;stroke-width:0.12px"><tspan class="o">1</tspan>0</text>
<text transform="translate(315.0,684.9) scale(0.735,1)" font-size="12.3" text-anchor="middle" stroke="#000" stroke-width="0.45">Years after diagnosis</text>
<rect x="0" y="0" width="1.5" height="698" fill="#000"/><rect x="0" y="0" width="520" height="1.6" fill="#000"/><rect x="518" y="0" width="2" height="698" fill="#000"/><rect x="0" y="696" width="520" height="2" fill="#000"/>
<use href="#g1" transform="matrix(0.00488 0.00000 0.00000 -0.00527 282.72 18.75)" style="fill:rgb(0, 0, 0);stroke:rgb(0, 0, 0);stroke-width:0.12px" vector-effect="non-scaling-stroke"/>
<use href="#g1" transform="matrix(0.00488 0.00000 0.00000 -0.00527 373.84 18.75)" style="fill:rgb(0, 0, 0);stroke:rgb(0, 0, 0);stroke-width:0.12px" vector-effect="non-scaling-stroke"/>
<use href="#g1" transform="matrix(0.00488 0.00000 0.00000 -0.00527 378.67 18.75)" style="fill:rgb(0, 0, 0);stroke:rgb(0, 0, 0);stroke-width:0.12px" vector-effect="non-scaling-stroke"/>
<use href="#g1" transform="matrix(0.00488 0.00000 0.00000 -0.00527 387.58 18.75)" style="fill:rgb(0, 0, 0);stroke:rgb(0, 0, 0);stroke-width:0.12px" vector-effect="non-scaling-stroke"/>
<use href="#g1" transform="matrix(0.00488 0.00000 0.00000 -0.00527 486.28 18.75)" style="fill:rgb(0, 0, 0);stroke:rgb(0, 0, 0);stroke-width:0.12px" vector-effect="non-scaling-stroke"/>
<use href="#g1" transform="matrix(0.00542 0.00000 0.00000 -0.00474 83.55 45.10)" style="fill:rgb(0, 0, 0);stroke:rgb(0, 0, 0);stroke-width:0.12px" vector-effect="non-scaling-stroke"/>
<use href="#g1" transform="matrix(0.00547 0.00000 0.00000 -0.00493 480.26 214.10)" style="fill:rgb(0, 0, 0);stroke:rgb(0, 0, 0);stroke-width:0.12px" vector-effect="non-scaling-stroke"/>
<use href="#g1" transform="matrix(0.00504 0.00000 0.00000 -0.00474 191.32 162.80)" style="fill:rgb(0, 0, 0);stroke:rgb(0, 0, 0);stroke-width:0.12px" vector-effect="non-scaling-stroke"/>
<use href="#g1" transform="matrix(0.00528 0.00000 0.00000 -0.00498 126.08 262.10)" style="fill:rgb(0, 0, 0);stroke:rgb(0, 0, 0);stroke-width:0.12px" vector-effect="non-scaling-stroke"/>
<use href="#g1" transform="matrix(0.00528 0.00000 0.00000 -0.00498 478.28 262.10)" style="fill:rgb(0, 0, 0);stroke:rgb(0, 0, 0);stroke-width:0.12px" vector-effect="non-scaling-stroke"/>
<use href="#g1" transform="matrix(0.00528 0.00000 0.00000 -0.00498 483.50 262.10)" style="fill:rgb(0, 0, 0);stroke:rgb(0, 0, 0);stroke-width:0.12px" vector-effect="non-scaling-stroke"/>
<use href="#g1" transform="matrix(0.00528 0.00000 0.00000 -0.00552 93.74 273.40)" style="fill:rgb(176, 16, 44);stroke:rgb(176, 16, 44);stroke-width:0.12px" vector-effect="non-scaling-stroke"/>
<use href="#g1" transform="matrix(0.00528 0.00000 0.00000 -0.00498 198.84 273.35)" style="fill:rgb(0, 0, 0);stroke:rgb(0, 0, 0);stroke-width:0.12px" vector-effect="non-scaling-stroke"/>
<use href="#g1" transform="matrix(0.00528 0.00000 0.00000 -0.00552 78.89 284.65)" style="fill:rgb(47, 79, 143);stroke:rgb(47, 79, 143);stroke-width:0.12px" vector-effect="non-scaling-stroke"/>
<use href="#g1" transform="matrix(0.00528 0.00000 0.00000 -0.00552 84.11 284.65)" style="fill:rgb(47, 79, 143);stroke:rgb(47, 79, 143);stroke-width:0.12px" vector-effect="non-scaling-stroke"/>
<use href="#g1" transform="matrix(0.00528 0.00000 0.00000 -0.00552 93.74 284.65)" style="fill:rgb(47, 79, 143);stroke:rgb(47, 79, 143);stroke-width:0.12px" vector-effect="non-scaling-stroke"/>
<use href="#g1" transform="matrix(0.00528 0.00000 0.00000 -0.00498 129.08 284.60)" style="fill:rgb(0, 0, 0);stroke:rgb(0, 0, 0);stroke-width:0.12px" vector-effect="non-scaling-stroke"/>
<use href="#g1" transform="matrix(0.00528 0.00000 0.00000 -0.00498 347.38 284.60)" style="fill:rgb(0, 0, 0);stroke:rgb(0, 0, 0);stroke-width:0.12px" vector-effect="non-scaling-stroke"/>
<use href="#g1" transform="matrix(0.00528 0.00000 0.00000 -0.00498 411.13 284.60)" style="fill:rgb(0, 0, 0);stroke:rgb(0, 0, 0);stroke-width:0.12px" vector-effect="non-scaling-stroke"/>
<use href="#g1" transform="matrix(0.00528 0.00000 0.00000 -0.00552 93.74 295.90)" style="fill:rgb(106, 174, 69);stroke:rgb(106, 174, 69);stroke-width:0.12px" vector-effect="non-scaling-stroke"/>
<use href="#g1" transform="matrix(0.00528 0.00000 0.00000 -0.00498 129.08 295.85)" style="fill:rgb(0, 0, 0);stroke:rgb(0, 0, 0);stroke-width:0.12px" vector-effect="non-scaling-stroke"/>
<use href="#g1" transform="matrix(0.00528 0.00000 0.00000 -0.00498 341.37 295.85)" style="fill:rgb(0, 0, 0);stroke:rgb(0, 0, 0);stroke-width:0.12px" vector-effect="non-scaling-stroke"/>
<use href="#g1" transform="matrix(0.00528 0.00000 0.00000 -0.00498 411.53 295.85)" style="fill:rgb(0, 0, 0);stroke:rgb(0, 0, 0);stroke-width:0.12px" vector-effect="non-scaling-stroke"/>
<use href="#g1" transform="matrix(0.00528 0.00000 0.00000 -0.00498 416.74 295.85)" style="fill:rgb(0, 0, 0);stroke:rgb(0, 0, 0);stroke-width:0.12px" vector-effect="non-scaling-stroke"/>
<use href="#g1" transform="matrix(0.00547 0.00000 0.00000 -0.00493 480.26 317.30)" style="fill:rgb(0, 0, 0);stroke:rgb(0, 0, 0);stroke-width:0.12px" vector-effect="non-scaling-stroke"/>
<use href="#g1" transform="matrix(0.00488 0.00000 0.00000 -0.00527 193.79 368.35)" style="fill:rgb(0, 0, 0);stroke:rgb(0, 0, 0);stroke-width:0.12px" vector-effect="non-scaling-stroke"/>
<use href="#g1" transform="matrix(0.00542 0.00000 0.00000 -0.00474 83.55 394.70)" style="fill:rgb(0, 0, 0);stroke:rgb(0, 0, 0);stroke-width:0.12px" vector-effect="non-scaling-stroke"/>
<use href="#g1" transform="matrix(0.00547 0.00000 0.00000 -0.00493 485.76 563.70)" style="fill:rgb(0, 0, 0);stroke:rgb(0, 0, 0);stroke-width:0.12px" vector-effect="non-scaling-stroke"/>
<use href="#g1" transform="matrix(0.00504 0.00000 0.00000 -0.00474 191.32 512.40)" style="fill:rgb(0, 0, 0);stroke:rgb(0, 0, 0);stroke-width:0.12px" vector-effect="non-scaling-stroke"/>
<use href="#g1" transform="matrix(0.00528 0.00000 0.00000 -0.00552 99.75 611.75)" style="fill:rgb(90, 42, 120);stroke:rgb(90, 42, 120);stroke-width:0.12px" vector-effect="non-scaling-stroke"/>
<use href="#g1" transform="matrix(0.00528 0.00000 0.00000 -0.00498 270.68 611.70)" style="fill:rgb(0, 0, 0);stroke:rgb(0, 0, 0);stroke-width:0.12px" vector-effect="non-scaling-stroke"/>
<use href="#g1" transform="matrix(0.00528 0.00000 0.00000 -0.00498 341.58 611.70)" style="fill:rgb(0, 0, 0);stroke:rgb(0, 0, 0);stroke-width:0.12px" vector-effect="non-scaling-stroke"/>
<use href="#g1" transform="matrix(0.00528 0.00000 0.00000 -0.00498 492.40 611.70)" style="fill:rgb(0, 0, 0);stroke:rgb(0, 0, 0);stroke-width:0.12px" vector-effect="non-scaling-stroke"/>
<use href="#g1" transform="matrix(0.00528 0.00000 0.00000 -0.00498 270.68 622.95)" style="fill:rgb(0, 0, 0);stroke:rgb(0, 0, 0);stroke-width:0.12px" vector-effect="non-scaling-stroke"/>
<use href="#g1" transform="matrix(0.00528 0.00000 0.00000 -0.00498 282.71 622.95)" style="fill:rgb(0, 0, 0);stroke:rgb(0, 0, 0);stroke-width:0.12px" vector-effect="non-scaling-stroke"/>
<use href="#g1" transform="matrix(0.00528 0.00000 0.00000 -0.00498 341.58 622.95)" style="fill:rgb(0, 0, 0);stroke:rgb(0, 0, 0);stroke-width:0.12px" vector-effect="non-scaling-stroke"/>
<use href="#g1" transform="matrix(0.00528 0.00000 0.00000 -0.00498 199.78 634.20)" style="fill:rgb(0, 0, 0);stroke:rgb(0, 0, 0);stroke-width:0.12px" vector-effect="non-scaling-stroke"/>
<use href="#g1" transform="matrix(0.00528 0.00000 0.00000 -0.00498 271.08 634.20)" style="fill:rgb(0, 0, 0);stroke:rgb(0, 0, 0);stroke-width:0.12px" vector-effect="non-scaling-stroke"/>
<use href="#g1" transform="matrix(0.00528 0.00000 0.00000 -0.00498 276.30 634.20)" style="fill:rgb(0, 0, 0);stroke:rgb(0, 0, 0);stroke-width:0.12px" vector-effect="non-scaling-stroke"/>
<use href="#g1" transform="matrix(0.00528 0.00000 0.00000 -0.00498 270.68 645.45)" style="fill:rgb(0, 0, 0);stroke:rgb(0, 0, 0);stroke-width:0.12px" vector-effect="non-scaling-stroke"/>
<use href="#g1" transform="matrix(0.00528 0.00000 0.00000 -0.00498 492.40 645.45)" style="fill:rgb(0, 0, 0);stroke:rgb(0, 0, 0);stroke-width:0.12px" vector-effect="non-scaling-stroke"/>
<use href="#g1" transform="matrix(0.00547 0.00000 0.00000 -0.00493 485.76 666.90)" style="fill:rgb(0, 0, 0);stroke:rgb(0, 0, 0);stroke-width:0.12px" vector-effect="non-scaling-stroke"/>
</svg></body></html>
